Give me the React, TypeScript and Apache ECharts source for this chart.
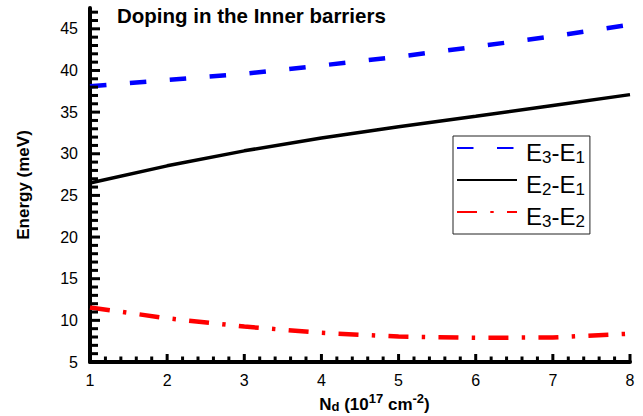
import React, { useEffect, useRef } from "react";
import * as echarts from "echarts";

const FONT = "'Liberation Sans', Arial, Helvetica, sans-serif";

const xValues = [1, 2, 3, 4, 5, 6, 7, 8];
const e31 = [38.1, 38.85, 39.6, 40.6, 41.65, 42.85, 44.1, 45.5];
const e21 = [26.5, 28.55, 30.35, 31.9, 33.25, 34.5, 35.8, 37.1];
const e32 = [11.55, 10.25, 9.25, 8.5, 8.05, 7.9, 7.95, 8.4];

const seriesNames = ["E3-E1", "E2-E1", "E3-E2"];

// axis tick positions
const xMajorTicks = [1, 2, 3, 4, 5, 6, 7, 8];
const xMinorTicks = [
  1.2, 1.4, 1.6, 1.8, 2.2, 2.4, 2.6, 2.8, 3.2, 3.4, 3.6, 3.8, 4.2, 4.4, 4.6, 4.8,
  5.2, 5.4, 5.6, 5.8, 6.2, 6.4, 6.6, 6.8, 7.2, 7.4, 7.6, 7.8,
];
const yMajorTicks = [5, 10, 15, 20, 25, 30, 35, 40, 45];
const yMinorTicks = [
  6, 7, 8, 9, 11, 12, 13, 14, 16, 17, 18, 19, 21, 22, 23, 24, 26, 27, 28, 29,
  31, 32, 33, 34, 36, 37, 38, 39, 41, 42, 43, 44, 46, 47,
];

const titleText = "Doping in the Inner barriers";
const yName = "Energy (meV)";

const X_MIN = 1, X_MAX = 8, Y_MIN = 5, Y_MAX = 47.5;

function pairs(vals: number[]) {
  return xValues.map((x, i) => [x, vals[i]]);
}

function tickSeries(values: number[], horizontalAxis: boolean, len: number) {
  return {
    type: "custom",
    name: horizontalAxis ? "xticks" + len : "yticks" + len,
    silent: true,
    clip: false,
    z: 5,
    data: values.map((v) => (horizontalAxis ? [v, Y_MIN] : [X_MIN, v])),
    renderItem: (params: any, api: any) => {
      const p = api.coord([api.value(0), api.value(1)]);
      const shape = horizontalAxis
        ? { x1: p[0], y1: p[1], x2: p[0], y2: p[1] - len }
        : { x1: p[0], y1: p[1], x2: p[0] + len, y2: p[1] };
      return { type: "line", shape, style: { stroke: "#000", lineWidth: 3 } };
    },
  };
}

export default function App() {
  const ref = useRef<HTMLDivElement>(null);
  useEffect(() => {
    if (!ref.current) return;
    const chart = echarts.init(ref.current, null, { renderer: "svg" });
    chart.setOption({
      animation: false,
      backgroundColor: "#fff",
      textStyle: { fontFamily: FONT, color: "#000" },
      title: {
        text: titleText,
        left: 117,
        top: 5,
        padding: 0,
        textStyle: { fontSize: 20.5, fontWeight: "bold", color: "#000", fontFamily: FONT },
      },
      grid: { left: 90, right: 13, top: 8, bottom: 54, containLabel: false, outerBoundsMode: "none" },
      legend: {
        orient: "vertical",
        left: 453,
        top: 136,
        padding: [0, 5, 4, 3],
        borderColor: "#222",
        borderWidth: 1,
        itemWidth: 60,
        itemHeight: 14,
        itemGap: 2,
        data: seriesNames,
        itemStyle: { opacity: 0 },
        formatter: (name: string) => `{m0|E}{s|${name[1]}}{m|-E}{s|${name[4]}}`,
        textStyle: {
          fontFamily: FONT,
          color: "#000",
          rich: {
            m0: { fontSize: 24, lineHeight: 24, padding: [4, 0, 0, 4], verticalAlign: "top", fontFamily: FONT, color: "#000" },
            m: { fontSize: 24, lineHeight: 24, padding: [4, 0, 0, 0], verticalAlign: "top", fontFamily: FONT, color: "#000" },
            s: { fontSize: 17, lineHeight: 15, padding: [13, 0, 0, 0], verticalAlign: "top", fontFamily: FONT, color: "#000" },
          },
        },
      },
      xAxis: {
        type: "value",
        position: "bottom",
        min: X_MIN,
        max: X_MAX,
        interval: 1,
        axisLine: { show: true, lineStyle: { color: "#000", width: 4 } },
        axisTick: { show: false },
        splitLine: { show: false },
        axisLabel: { fontSize: 16, color: "#000", margin: 10, fontFamily: FONT },
        name: "{n|N}{sb|d}{n| (10}{sp|17}{n| cm}{sp|-2}{n|)}",
        nameLocation: "middle",
        nameGap: 30,
        nameMoveOverlap: false,
        nameTextStyle: {
          padding: [0, 0, 0, 29],
          rich: {
            n: { fontSize: 17, fontWeight: "bold", lineHeight: 17, padding: [4, 0, 0, 0], verticalAlign: "top", fontFamily: FONT, color: "#000" },
            sp: { fontSize: 13, fontWeight: "bold", lineHeight: 13, padding: [0, 0, 0, 0], verticalAlign: "top", fontFamily: FONT, color: "#000" },
            sb: { fontSize: 13, fontWeight: "bold", lineHeight: 13, padding: [8, 0, 0, 0], verticalAlign: "top", fontFamily: FONT, color: "#000" },
          },
        },
      },
      yAxis: {
        type: "value",
        position: "left",
        min: Y_MIN,
        max: Y_MAX,
        interval: 5,
        axisLine: { show: true, lineStyle: { color: "#000", width: 4 } },
        axisTick: { show: false },
        axisLabel: { fontSize: 16, color: "#000", margin: 12, fontFamily: FONT, showMaxLabel: false },
        splitLine: { show: false },
        name: yName,
        nameLocation: "middle",
        nameGap: 58,
        nameTextStyle: { fontSize: 17, fontWeight: "bold", color: "#000", fontFamily: FONT },
      },
      series: [
        {
          type: "line",
          name: seriesNames[0],
          data: pairs(e31),
          symbol: "none",
          color: "#0000ff",
          lineStyle: { color: "#0000ff", width: 4.5, type: [16.5, 23.5] },
        },
        {
          type: "line",
          name: seriesNames[1],
          data: pairs(e21),
          symbol: "none",
          color: "#000000",
          lineStyle: { color: "#000000", width: 3.5, type: "solid" },
        },
        {
          type: "line",
          name: seriesNames[2],
          data: pairs(e32),
          symbol: "none",
          color: "#ff0000",
          lineStyle: { color: "#ff0000", width: 4.5, type: [20, 13.3, 3.4, 13.3] },
        },
        tickSeries(xMajorTicks, true, 8),
        tickSeries(xMinorTicks, true, 5.5),
        tickSeries(yMajorTicks, false, 10),
        tickSeries(yMinorTicks, false, 8),
      ],
    });
    return () => chart.dispose();
  }, []);
  return (
    <div
      ref={ref}
      style={{ position: "fixed", left: 0, top: 0, width: 643, height: 416, background: "#fff" }}
    />
  );
}
